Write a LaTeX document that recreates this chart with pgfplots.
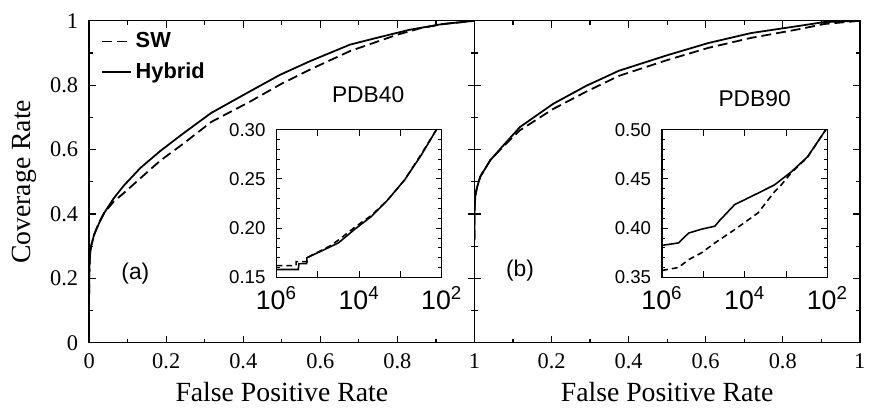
\documentclass[border=0pt]{standalone}
\usepackage{fontspec}
\setmainfont{Liberation Serif}
\setsansfont{Liberation Sans}
\usepackage{pgfplots}
\pgfplotsset{compat=1.18}
\begin{document}
\begin{tikzpicture}
\pgfplotsset{
 mainax/.style={scale only axis, width=194.5pt, height=162.5pt,
   xmin=0, xmax=1, ymin=0, ymax=1,
   xtick={0,0.2,0.4,0.6,0.8,1}, ytick={0,0.2,0.4,0.6,0.8,1},
   minor x tick num=1, minor y tick num=1,
   major tick length=3.5pt, minor tick length=2pt,
   tick style={black, line width=0.6pt},
   axis line style={line width=0.7pt},
   /pgf/number format/assume math mode=true,
   tick label style={font=\fontsize{11.3}{13}\selectfont},
   x tick label style={yshift=-2pt},
   y tick label style={xshift=-2pt},
   label style={font=\fontsize{14}{16}\selectfont},
 },
 inax/.style={scale only axis, width=83.5pt, height=74.5pt,
   xmin=1e-6, xmax=1e-2,
   xtick={1e-6,1e-5,1e-4,1e-3,1e-2},
   xticklabels={10\textsuperscript{6},,10\textsuperscript{4},,10\textsuperscript{2}},
   xminorticks=false, minor y tick num=4,
   major tick length=3pt, minor tick length=1.7pt,
   tick style={black, line width=0.5pt},
   axis line style={line width=0.6pt},
   x tick label style={font=\sffamily\fontsize{13.5}{16}\selectfont, yshift=-1pt},
   y tick label style={font=\sffamily\fontsize{9.4}{11}\selectfont, xshift=-2pt},
   axis background/.style={fill=white},
 },
 solidc/.style={black, line width=0.9pt},
 dashc/.style={black, line width=0.9pt, dash pattern=on 5pt off 2.5pt},
 isolid/.style={black, line width=0.8pt},
 idash/.style={black, line width=0.8pt, dash pattern=on 3pt off 2pt},
}
\path (-45pt,-30.5pt) rectangle (391pt,173pt);
% Left main panel
\begin{axis}[mainax, at={(0pt,0pt)}, anchor=south west,
  xlabel={False Positive Rate}, ylabel={Coverage Rate},
  legend style={at={(0.015,0.99)}, anchor=north west, draw=none, fill=none,
    font=\sffamily\bfseries\fontsize{11}{13}\selectfont, row sep=2pt,
    /tikz/every even column/.append style={column sep=6pt}},
  legend cell align=left,
  legend image code/.code={\draw[#1] (0pt,0pt) -- (14.5pt,0pt);}]
\addplot[dashc] coordinates {(0,0.152) (0.0005,0.22) (0.002,0.27) (0.005,0.30) (0.013,0.336) (0.026,0.375) (0.039,0.403) (0.064,0.439) (0.09,0.465) (0.133,0.511) (0.184,0.565) (0.244,0.618) (0.317,0.686) (0.416,0.748) (0.5,0.805) (0.574,0.849) (0.677,0.906) (0.8,0.957) (0.86,0.977) (0.92,0.99) (1,1)};
\addlegendentry{SW}
\addplot[solidc] coordinates {(0,0.152) (0.0005,0.22) (0.002,0.27) (0.005,0.30) (0.013,0.336) (0.026,0.372) (0.039,0.403) (0.064,0.449) (0.09,0.488) (0.133,0.543) (0.184,0.595) (0.244,0.65) (0.317,0.714) (0.416,0.78) (0.495,0.832) (0.574,0.875) (0.677,0.926) (0.746,0.947) (0.831,0.972) (0.917,0.99) (1,1)};
\addlegendentry{Hybrid}
\node[font=\sffamily\fontsize{11.5}{13}\selectfont] at (axis cs:0.724,0.772) {PDB40};
\node[font=\sffamily\fontsize{11.5}{13}\selectfont] at (axis cs:0.12,0.215) {(a)};
\end{axis}
% Right main panel
\begin{axis}[mainax, at={(194.5pt,0pt)}, anchor=south west,
  xlabel={False Positive Rate}, yticklabels={},
  xticklabels={,0.2,0.4,0.6,0.8,1}]
\addplot[dashc] coordinates {(0,0.32) (0,0.40) (0.002,0.455) (0.006,0.48) (0.015,0.516) (0.041,0.567) (0.075,0.61) (0.118,0.66) (0.204,0.726) (0.29,0.78) (0.375,0.829) (0.5,0.878) (0.607,0.916) (0.718,0.947) (0.847,0.975) (0.907,0.99) (1,1)};
\addplot[solidc] coordinates {(0,0.32) (0,0.40) (0.002,0.455) (0.006,0.48) (0.015,0.516) (0.041,0.567) (0.075,0.613) (0.118,0.67) (0.204,0.742) (0.29,0.798) (0.375,0.845) (0.5,0.893) (0.607,0.931) (0.718,0.962) (0.847,0.985) (0.907,0.996) (1,1)};
\node[font=\sffamily\fontsize{11.5}{13}\selectfont] at (axis cs:0.727,0.757) {PDB90};
\node[font=\sffamily\fontsize{11.5}{13}\selectfont] at (axis cs:0.118,0.224) {(b)};
\end{axis}
% Left inset
\begin{semilogxaxis}[inax, at={(94.5pt,33pt)}, anchor=south west,
  ymin=0.15, ymax=0.30, ytick={0.15,0.2,0.25,0.3}, yticklabels={0.15,0.20,0.25,0.30}]
\addplot[idash] coordinates {(1e-6,0.162) (3e-6,0.162) (3e-6,0.166) (5.5e-6,0.166) (5.5e-6,0.170) (1.3e-5,0.178) (2e-5,0.182) (3.2e-5,0.188) (7.9e-5,0.201) (2e-4,0.213) (5e-4,0.229) (1.26e-3,0.249) (3.16e-3,0.275) (7.4e-3,0.30)};
\addplot[isolid] coordinates {(1e-6,0.158) (3.4e-6,0.158) (3.5e-6,0.164) (5.4e-6,0.164) (5.5e-6,0.170) (1.26e-5,0.177) (3.16e-5,0.185) (7.9e-5,0.199) (2e-4,0.212) (5e-4,0.229) (1.26e-3,0.249) (3.16e-3,0.274) (7.4e-3,0.30)};
\end{semilogxaxis}
% Right inset
\begin{semilogxaxis}[inax, at={(289.15pt,33pt)}, anchor=south west,
  ymin=0.35, ymax=0.50, ytick={0.35,0.4,0.45,0.5}, yticklabels={0.35,0.40,0.45,0.50}]
\addplot[idash] coordinates {(1e-6,0.357) (2.5e-6,0.360) (4.4e-6,0.368) (9.1e-6,0.375) (1.9e-5,0.385) (5.75e-5,0.3986) (2.1e-4,0.4155) (5.25e-4,0.437) (7e-4,0.442) (1.32e-3,0.456) (3.3e-3,0.472) (9.1e-3,0.50)};
\addplot[isolid] coordinates {(1e-6,0.3825) (2.5e-6,0.385) (4.4e-6,0.395) (9.1e-6,0.399) (1.9e-5,0.402) (2.5e-5,0.408) (5.75e-5,0.424) (2.1e-4,0.4356) (5.25e-4,0.444) (1.32e-3,0.457) (3.3e-3,0.4725) (9.1e-3,0.50)};
\end{semilogxaxis}
\end{tikzpicture}
\end{document}
